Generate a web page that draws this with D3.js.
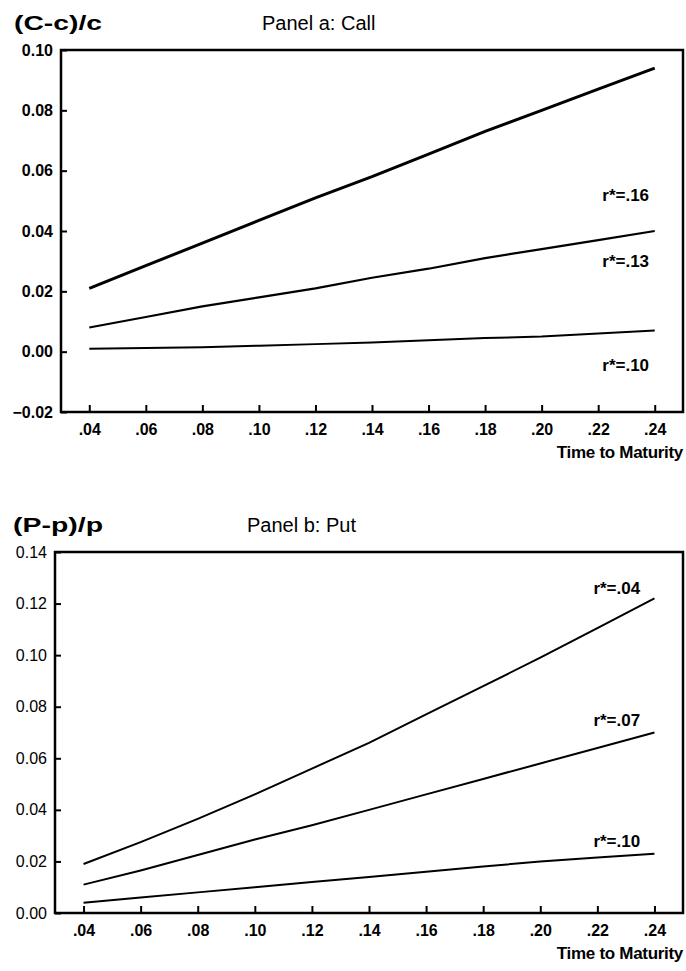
<!DOCTYPE html>
<html>
<head>
<meta charset="UTF-8">
<title>Call and put premiums vs time to maturity</title>
<script src="https://d3js.org/d3.v7.min.js"></script>
<style>
  body { margin: 0; background: #fff; }
  svg { display: block; font-family: "Liberation Sans", Arial, sans-serif; }
  .axis text { fill: #000; }
  .axis line { stroke: #000; stroke-width: 2px; }
</style>
</head>
<body>
<div id="chart"></div>
<script>
// time to maturity (years), shared by both panels
const maturities = [0.04, 0.06, 0.08, 0.10, 0.12, 0.14, 0.16, 0.18, 0.20, 0.22, 0.24];
const xTickLabels = [".04", ".06", ".08", ".10", ".12", ".14", ".16", ".18", ".20", ".22", ".24"];

// Panel a: (C-c)/c
const callLabels = ["r*=.16", "r*=.13", "r*=.10"];
const call16 = [0.021, 0.0285, 0.036, 0.0435, 0.051, 0.058, 0.0655, 0.073, 0.080, 0.087, 0.094];
const call13 = [0.008, 0.0115, 0.015, 0.018, 0.021, 0.0245, 0.0275, 0.031, 0.034, 0.037, 0.040];
const call10 = [0.001, 0.0012, 0.0015, 0.002, 0.0025, 0.003, 0.0038, 0.0045, 0.005, 0.006, 0.007];
const callLabelY = [0.052, 0.030, -0.0045];
const callTicks = [-0.02, 0.00, 0.02, 0.04, 0.06, 0.08, 0.10];

// Panel b: (P-p)/p
const putLabels = ["r*=.04", "r*=.07", "r*=.10"];
const put04 = [0.019, 0.0275, 0.0365, 0.046, 0.056, 0.066, 0.077, 0.088, 0.099, 0.1105, 0.122];
const put07 = [0.011, 0.0165, 0.0225, 0.0285, 0.034, 0.040, 0.046, 0.052, 0.058, 0.064, 0.070];
const put10 = [0.004, 0.006, 0.008, 0.010, 0.012, 0.014, 0.016, 0.018, 0.020, 0.0215, 0.023];
const putLabelY = [0.126, 0.075, 0.028];
const putTicks = [0.00, 0.02, 0.04, 0.06, 0.08, 0.10, 0.12, 0.14];

const W = 686, H = 971;
const svg = d3.select("#chart").append("svg")
  .attr("width", W).attr("height", H);

function drawPanel(p) {
  const x = d3.scaleLinear().domain([0.03, 0.25]).range([p.left, 683]);
  const y = d3.scaleLinear().domain([p.ticks[0], p.ticks[p.ticks.length - 1]]).range([p.bottom, p.top]);
  const g = svg.append("g");

  // y title + panel title
  g.append("text").attr("x", p.yTitleX).attr("y", p.top - 20)
    .attr("font-size", 20).attr("font-weight", "bold")
    .attr("textLength", p.yTitleW).attr("lengthAdjust", "spacingAndGlyphs")
    .text(p.yTitle);
  g.append("text").attr("x", p.titleX).attr("y", p.top - 20)
    .attr("font-size", 20)
    .text(p.title);

  // axes (ticks point inward)
  g.append("g").attr("class", "axis")
    .attr("transform", `translate(${p.left},0)`)
    .call(d3.axisLeft(y).tickValues(p.ticks).tickSize(-6).tickPadding(8)
      .tickFormat(d3.format(".2f")))
    .call(s => s.select(".domain").remove())
    .selectAll("text")
      .attr("font-size", 16).attr("font-weight", p.yBold ? "bold" : "normal")
      .attr("font-family", "Liberation Sans, Arial, sans-serif");

  g.append("g").attr("class", "axis")
    .attr("transform", `translate(0,${p.bottom})`)
    .call(d3.axisBottom(x).tickValues(maturities).tickSize(-7).tickPadding(12)
      .tickFormat((d, i) => xTickLabels[i]))
    .call(s => s.select(".domain").remove())
    .selectAll("text")
      .attr("font-size", 16).attr("font-weight", "bold")
      .attr("font-family", "Liberation Sans, Arial, sans-serif");

  // frame
  g.append("rect")
    .attr("x", p.left).attr("y", p.top)
    .attr("width", x.range()[1] - p.left).attr("height", p.bottom - p.top)
    .attr("fill", "none").attr("stroke", "#000").attr("stroke-width", 2.5);

  g.append("text").attr("x", 683).attr("y", p.bottom + 46)
    .attr("text-anchor", "end").attr("font-size", 17).attr("font-weight", "bold")
    .attr("letter-spacing", -0.3)
    .text("Time to Maturity");

  const line = d3.line().x((d, i) => x(maturities[i])).y(d => y(d));
  p.series.forEach((s, k) => {
    g.append("path").datum(s)
      .attr("d", line)
      .attr("fill", "none").attr("stroke", "#000")
      .attr("stroke-width", p.widths[k]);
    g.append("text")
      .attr("x", x(p.labelX)).attr("y", y(p.labelY[k]))
      .attr("dy", "0.35em").attr("text-anchor", "end")
      .attr("font-size", 17).attr("font-weight", "bold")
      .text(p.labels[k]);
  });
}

drawPanel({
  top: 50, bottom: 412, left: 61,
  ticks: callTicks, yBold: true,
  yTitle: "(C-c)/c", yTitleX: 14, yTitleW: 88,
  title: "Panel a: Call", titleX: 262,
  series: [call16, call13, call10], widths: [3, 2.2, 2],
  labels: callLabels, labelY: callLabelY, labelX: 0.238
});

drawPanel({
  top: 552, bottom: 913, left: 55,
  ticks: putTicks, yBold: false,
  yTitle: "(P-p)/p", yTitleX: 13, yTitleW: 90,
  title: "Panel b: Put", titleX: 247,
  series: [put04, put07, put10], widths: [2, 2, 2],
  labels: putLabels, labelY: putLabelY, labelX: 0.235
});
</script>
</body>
</html>
